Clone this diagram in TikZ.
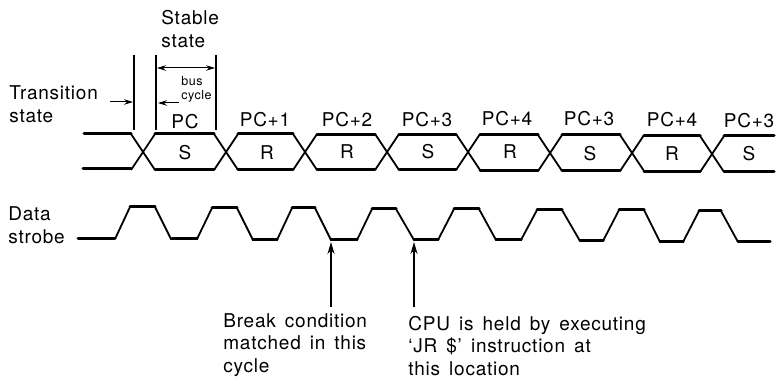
\documentclass[tikz,border=0pt]{standalone}
\usepackage{fontspec}
\setmainfont[LetterSpace=4,WordSpace=1.5]{TeX Gyre Heros}
\usetikzlibrary{positioning, arrows.meta, calc}

\begin{document}
\begin{tikzpicture}[x=1pt, y=-1pt, thick]

        % Styles
        \tikzset{
            txt/.style={font=\fontsize{19}{22.5}\selectfont, align=left, inner sep=0pt},
            smalltxt/.style={font=\fontsize{12.5}{14}\selectfont, align=left, inner sep=0pt},
            stablepart/.style={line width=3pt, line cap=round},
            slope/.style={line width=1.8pt},
            guide/.style={line width=1.9pt},
            pointer/.style={line width=1.4pt, -{Stealth[length=12pt, width=7pt]}},
            tinypointer/.style={line width=1pt, -{Stealth[length=9pt, width=5.5pt]}}
        }

        \useasboundingbox (0,0) rectangle (781,379);

        % Left hand labels
        \node[txt, anchor=west] (transition) at (9,104) {Transition\\state};
        \node[txt, anchor=west] (stablelbl) at (161,29) {Stable\\state};
        \node[smalltxt, anchor=west] (buscycle) at (181,89) {bus\\cycle};
        \node[txt, anchor=west] (strobelbl) at (8,225) {Data\\strobe};

        % Markers above the bus
        \coordinate (marka) at (134,55);
        \coordinate (markb) at (156,55);
        \coordinate (markc) at (216,55);
        \draw[guide] (marka) -- (134,130);
        \draw[guide] (markb) -- (156,130);
        \draw[guide] (markc) -- (216,130);

        % Arrows of the bus cycle
        \coordinate (cyclel) at (157,68);
        \coordinate (cycler) at (215,68);
        \coordinate (transtail) at (110,102);
        \coordinate (transtip) at (133,102);
        \coordinate (stabletail) at (179,103);
        \coordinate (stabletip) at (158,103);
        \draw[tinypointer, {Stealth[length=9pt, width=5.5pt]}-{Stealth[length=9pt, width=5.5pt]}] (cyclel) -- (cycler);
        \draw[tinypointer] (transtail) -- (transtip);
        \draw[tinypointer] (stabletail) -- (stabletip);

        % Address labels
        \foreach \name/\x/\y/\lbl in {pca/185/122/PC, pcb/265/120/PC+1, pcc/347/120/PC+2, pcd/427/120/PC+3, pce/507/119/PC+4, pcf/589/119/PC+3, pcg/672/120/PC+4, pch/749/121/PC+3} {
            \node[txt] (\name) at (\x,\y) {\lbl};
        }

        % Cycle types
        \foreach \name/\x/\y/\lbl in {cyca/185/153/S, cycb/267/153/R, cycc/347/152/R, cycd/428/152/S, cyce/510/152/R, cycf/590/154/S, cycg/672/154/R, cych/749/154/S} {
            \node[txt] (\name) at (\x,\y) {\lbl};
        }

        % Bus crossings
        \foreach \x/\y in {143/152, 226/152, 305/152, 387/152, 468/152, 550/153, 632/153, 712/154} {
            \draw[slope] ({\x-12},{\y-18}) -- ({\x+12},{\y+18});
            \draw[slope] ({\x-12},{\y+18}) -- ({\x+12},{\y-18});
        }

        % Bus stable parts
        \draw[stablepart] (84,133.5) -- (131,133.5);
        \draw[stablepart] (83,169) -- (131,169);
        \foreach \xa/\xb/\yt/\yb in {155/214/134/170, 238/293/134/170, 317/375/134.5/169.5, 399/456/134.5/170, 480/538/134.5/170.5, 562/620/135/171, 644/700/135.5/171.5} {
            \draw[stablepart] (\xa,\yt) -- (\xb,\yt);
            \draw[stablepart] (\xa,\yb) -- (\xb,\yb);
        }
        \draw[stablepart] (724,136) -- (774,136);
        \draw[stablepart] (724,172) -- (774,172);

        % Data strobe
        \draw[slope] (115,239) -- (130,207) -- (155,207) -- (171,239) -- (197,239) -- (212,208) -- (237,208) -- (253,240) -- (277,240) -- (292,208) -- (315,208) -- (331,240) -- (357,240) -- (372,209) -- (396,209) -- (414,240) -- (438,240) -- (454,209) -- (479,209) -- (496,240) -- (521,240) -- (537,210) -- (562,210) -- (580,241) -- (603,241) -- (619,210) -- (644,210) -- (660,242) -- (683,242) -- (699,211) -- (721,211) -- (738,242);
        \draw[stablepart] (78,239) -- (115,239);
        \foreach \xa/\xb/\y in {130/155/207, 172/197/239, 212/237/208, 253/277/240, 292/315/208, 331/357/240, 372/396/209, 414/438/240, 454/479/209, 496/521/240, 537/562/210, 580/603/241, 619/644/210, 660/683/242, 699/721/211} {
            \draw[stablepart] (\xa,\y) -- (\xb,\y);
        }
        \draw[stablepart] (738,242) -- (770,242);

        % Notes below the strobe
        \node[txt, anchor=west] (breaklbl) at (223,345) {Break condition\\matched in this\\cycle};
        \node[txt, anchor=west] (cpulbl) at (408,346) {CPU is held by executing\\`JR \$' instruction at\\this location};

        \coordinate (breaktail) at (331,307);
        \coordinate (breaktip) at (331,242);
        \coordinate (cputail) at (414,307);
        \coordinate (cputip) at (414,242);
        \draw[pointer] (breaktail) -- (breaktip);
        \draw[pointer] (cputail) -- (cputip);

\end{tikzpicture}
\end{document}
